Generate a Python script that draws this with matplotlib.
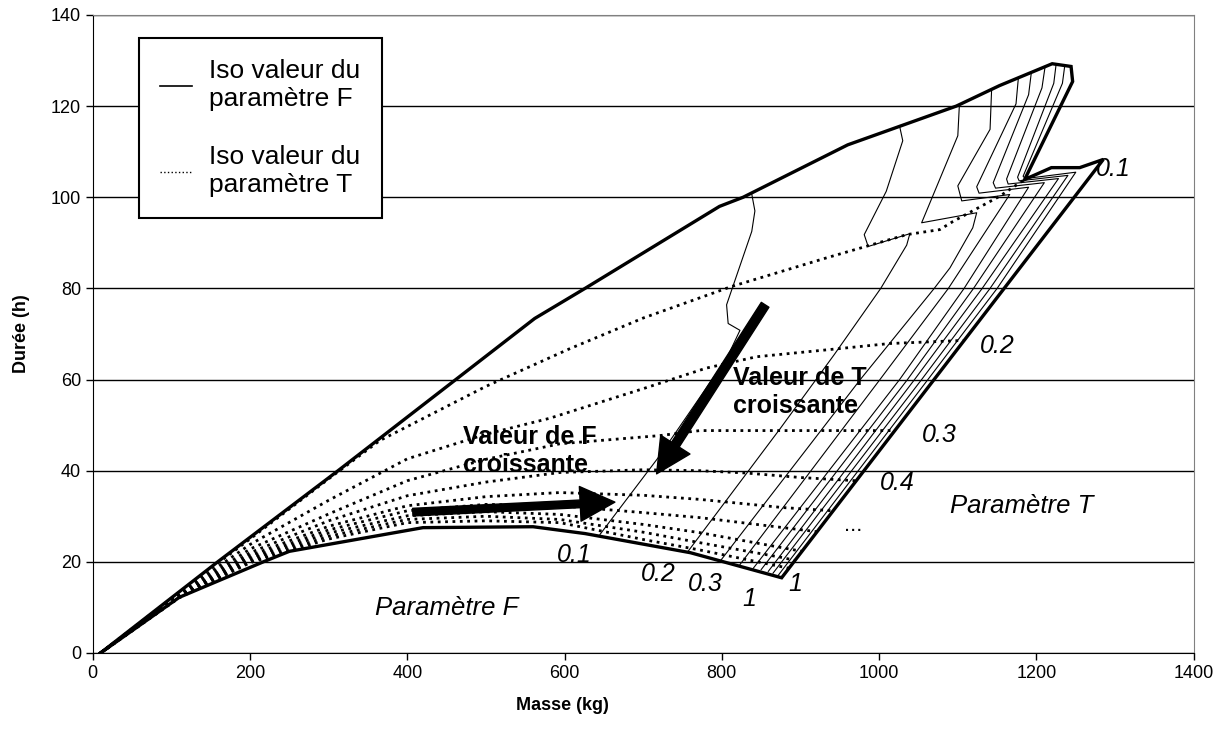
import matplotlib
matplotlib.use('Agg')
import matplotlib.pyplot as plt
from matplotlib.lines import Line2D

plt.rcParams['font.family'] = ['Liberation Sans', 'DejaVu Sans']

# envelope of the domain (thick line)
env_x = [10, 159, 312, 562, 626, 797, 827, 960, 1098, 1153, 1220, 1244, 1246, 1185, 1219, 1255, 1285,
         876, 760, 626, 560, 420, 250, 217, 110, 10]
env_y = [0, 20, 40, 73.4, 80, 98, 100, 111.5, 120, 124.5, 129.3, 128.7, 125.4, 103.9, 106.5, 106.5, 108.3,
         16.5, 22, 26.2, 27.7, 27.5, 22.3, 20, 12.2, 0]

# iso F lines (thin solid)
fa_x = [645, 721, 806, 823, 808, 806, 838, 842, 838]
fa_y = [26.0, 43.3, 64.6, 70.8, 72.3, 76.4, 92.5, 97.0, 100.7]
fb_x = [757, 874, 943, 1002, 1035, 1039, 986, 981, 1009, 1030, 1026]
fb_y = [22.3, 49.2, 65.5, 80, 89.5, 92, 89.2, 91.8, 101.3, 112.4, 115.6]
fc_x = [797.6, 976, 1070, 1090, 1119, 1124, 1054, 1100, 1102]
fc_y = [20.1, 60, 80, 84.5, 93.3, 96.6, 94.4, 113.5, 120.3]
fd_x = [823, 1001, 1088, 1166, 1105, 1100, 1141, 1143]
fd_y = [19.4, 60, 80, 100.6, 99.2, 102.5, 114.9, 123.7]
fe_x = [840, 1026, 1108, 1190, 1127, 1124, 1174, 1177]
fe_y = [18.6, 60, 80, 102.2, 100.9, 102.3, 120.5, 126.2]
ff_x = [850, 1036, 1120, 1210, 1148, 1145, 1190, 1193.5]
ff_y = [18.3, 60, 80, 103.2, 102.0, 103.2, 122.5, 127.4]
fg_x = [859, 1045, 1131, 1228, 1164, 1162, 1207, 1211]
fg_y = [17.9, 60, 80, 104.1, 102.9, 104.0, 124, 128.7]
fh_x = [865, 1054, 1141, 1240, 1178, 1176, 1222, 1225]
fh_y = [17.5, 60, 80, 104.8, 103.6, 104.4, 125, 129.2]
fi_x = [871.5, 1062, 1150, 1250, 1186, 1183, 1233, 1236]
fi_y = [17.0, 60, 80, 105.5, 104.1, 104.6, 125, 128.9]

# iso T lines (dotted)
t01_x = [10, 110, 200, 300, 365, 500, 607, 700, 812, 933, 1035, 1077, 1094, 1153, 1185]
t01_y = [0, 13.3, 25.0, 38.2, 46.6, 58.5, 66.8, 73.5, 80.4, 86.7, 91.8, 92.9, 94.7, 100.2, 103.9]
t02_x = [10, 110, 200, 300, 400, 500, 581, 700, 780, 844, 950, 1013, 1109]
t02_y = [0, 13.0, 23.8, 33.5, 42.6, 48.0, 51.5, 58.0, 62.5, 65.0, 66.8, 67.9, 68.6]
t03_x = [10, 110, 200, 300, 400, 500, 594, 721, 772, 900, 1020]
t03_y = [0, 12.8, 22.8, 30.5, 37.8, 42.5, 45.9, 47.7, 48.8, 48.8, 48.8]
t04_x = [10, 110, 200, 300, 400, 500, 594, 700, 772, 830, 900, 970]
t04_y = [0, 12.6, 22.0, 29.0, 34.5, 37.5, 39.6, 40.2, 40.0, 39.5, 38.5, 37.8]
t05_x = [10, 110, 200, 300, 400, 500, 594, 700, 772, 878, 941]
t05_y = [0, 12.5, 21.4, 27.8, 32.3, 34.3, 35.2, 34.6, 33.7, 31.9, 31.2]
t06_x = [10, 110, 200, 300, 400, 500, 594, 700, 772, 912, 921]
t06_y = [0, 12.4, 20.9, 27.0, 31.2, 32.6, 32.3, 30.8, 29.7, 26.8, 26.6]
t07_x = [10, 110, 200, 300, 400, 500, 594, 700, 772, 902]
t07_y = [0, 12.3, 20.5, 26.3, 30.1, 31.0, 30.4, 28.2, 26.4, 22.3]
t08_x = [10, 110, 200, 300, 400, 500, 594, 700, 772, 878, 893]
t08_y = [0, 12.2, 20.1, 25.6, 29.3, 30.0, 29.3, 26.5, 24.2, 20.9, 20.3]
t09_x = [10, 110, 200, 300, 400, 500, 594, 700, 772, 885]
t09_y = [0, 12.1, 19.8, 25.0, 28.6, 29.0, 28.6, 24.9, 22.6, 18.6]

f_lines = [(fa_x, fa_y), (fb_x, fb_y), (fc_x, fc_y), (fd_x, fd_y), (fe_x, fe_y),
           (ff_x, ff_y), (fg_x, fg_y), (fh_x, fh_y), (fi_x, fi_y)]
t_lines = [(t01_x, t01_y), (t02_x, t02_y), (t03_x, t03_y), (t04_x, t04_y), (t05_x, t05_y),
           (t06_x, t06_y), (t07_x, t07_y), (t08_x, t08_y), (t09_x, t09_y)]

# value labels
f_labels = ['0.1', '0.2', '0.3', '1', '1']
f_label_x = [612, 719, 779, 835.5, 893]
f_label_y = [21.6, 17.4, 15.2, 11.9, 15.2]
t_labels = ['0.1', '0.2', '0.3', '0.4']
t_label_x = [1298, 1150, 1076, 1023]
t_label_y = [106.1, 67.4, 47.9, 37.3]

fig = plt.figure(figsize=(12.26, 7.34), dpi=100)
ax = fig.add_axes([0.0756, 0.1104, 0.8981, 0.8692])

for x, y in t_lines:
    ax.plot(x, y, color='black', linestyle=':', linewidth=2.0, zorder=3)
for x, y in f_lines:
    ax.plot(x, y, color='black', linewidth=0.8, zorder=4)
ax.plot(env_x, env_y, color='black', linewidth=2.4, solid_joinstyle='miter', zorder=5)

# arrows
ax.annotate('', xy=(717, 39.3), xytext=(855, 76.4),
            arrowprops=dict(arrowstyle='simple,head_length=1.0,head_width=1.0,tail_width=0.26',
                            mutation_scale=25, fc='black', ec='black', shrinkA=0, shrinkB=0), zorder=6)
ax.annotate('', xy=(664, 33.1), xytext=(407, 30.9),
            arrowprops=dict(arrowstyle='simple,head_length=1.0,head_width=1.0,tail_width=0.22',
                            mutation_scale=25, fc='black', ec='black', shrinkA=0, shrinkB=0), zorder=6)

ax.text(471, 50.0, 'Valeur de F\ncroissante', fontsize=18, fontweight='bold', ha='left', va='top',
        linespacing=1.2, zorder=7)
ax.text(814, 63.0, 'Valeur de T\ncroissante', fontsize=18, fontweight='bold', ha='left', va='top',
        linespacing=1.2, zorder=7)

for s, x, y in zip(f_labels, f_label_x, f_label_y):
    ax.text(x, y, s, fontsize=18, style='italic', ha='center', va='center', zorder=7)
for s, x, y in zip(t_labels, t_label_x, t_label_y):
    ax.text(x, y, s, fontsize=18, style='italic', ha='center', va='center', zorder=7)
ax.text(966.5, 26.7, '...', fontsize=16, ha='center', va='baseline', zorder=7)

ax.text(450, 9.9, 'Paramètre F', fontsize=18.5, style='italic', ha='center', va='center')
ax.text(1181, 32.2, 'Paramètre T', fontsize=18.5, style='italic', ha='center', va='center')

ax.set_xlim(0, 1400)
ax.set_ylim(0, 140)
ax.set_xticks(range(0, 1401, 200))
ax.set_yticks(range(0, 141, 20))
ax.tick_params(direction='out', length=5, width=1, labelsize=13, colors='black')
ax.grid(axis='y', color='black', linewidth=1, zorder=0)
ax.set_axisbelow(True)
for side in ['top', 'right']:
    ax.spines[side].set_color('#808080')
for side in ['left', 'bottom']:
    ax.spines[side].set_color('black')

fig.text(562 / 1226, 1 - 705 / 734, 'Masse (kg)', fontsize=13, fontweight='bold', ha='center', va='center')
fig.text(22 / 1226, 1 - 334 / 734, 'Durée (h)', fontsize=13, fontweight='bold', rotation=90,
         ha='center', va='center')

handles = [Line2D([], [], color='black', linewidth=1.2),
           Line2D([], [], color='black', linestyle=':', linewidth=1.0)]
leg = ax.legend(handles, ['Iso valeur du\nparamètre F', 'Iso valeur du\nparamètre T'],
                loc='upper left', bbox_to_anchor=(0.0423, 0.9635), borderaxespad=0,
                fontsize=19, frameon=True, fancybox=False, handlelength=1.2, handletextpad=0.65,
                labelspacing=1.3, borderpad=0.8)
leg.get_frame().set_edgecolor('black')
leg.get_frame().set_linewidth(1.5)
leg.get_frame().set_alpha(1)
leg.set_zorder(10)

plt.savefig('out.png', dpi=100)
